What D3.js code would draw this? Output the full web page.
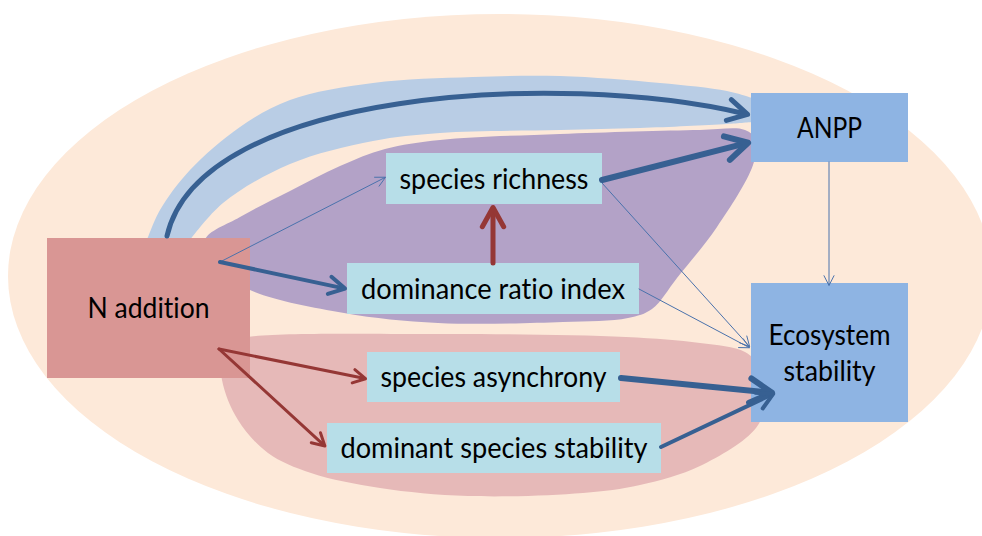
<!DOCTYPE html>
<html><head><meta charset="utf-8">
<script src="https://cdn.jsdelivr.net/npm/d3@7"></script>
<style>body{margin:0;background:#fff}svg{display:block}text{font-variant-ligatures:none;font-feature-settings:"liga" 0,"clig" 0}</style>
</head><body>
<script>
// ---- data ----
const nodeLabels = ["N addition","species richness","dominance ratio index","species asynchrony","dominant species stability","ANPP","Ecosystem stability"];
const nodeLines = [["N addition"],["species richness"],["dominance ratio index"],["species asynchrony"],["dominant species stability"],["ANPP"],["Ecosystem","stability"]];
const edgeSource   = [0,0,0,2,1,1,2,5,0,0,3,4];
const edgeTarget   = [5,1,2,1,5,6,6,6,3,4,6,6];
const edgeWeight   = [5,1,4,5,6,1,1,1,3,3,6,4];
const edgeEffect   = ["+","+","+","-","+","+","+","+","-","-","+","+"];
const groupNames   = ["direct to ANPP","richness / dominance","asynchrony / dominant stability"];

// ---- layout (positions & styles) ----
const W = 982, H = 536;
const boxes = [
  {x:47, y:238, w:203, h:140, fill:"#D99694", tw:[122]},
  {x:386,y:153, w:216, h:51,  fill:"#B7DEE8", tw:[189]},
  {x:347,y:263, w:292, h:51,  fill:"#B7DEE8", tw:[264]},
  {x:367,y:352, w:253, h:50,  fill:"#B7DEE8", tw:[226]},
  {x:327,y:423, w:334, h:50,  fill:"#B7DEE8", tw:[307]},
  {x:751,y:93,  w:157, h:69,  fill:"#8EB4E3", tw:[65]},
  {x:751,y:283, w:157, h:139, fill:"#8EB4E3", tw:[122,92]}
];
const anchors = [
  {s:[167,236], e:[750,115], c1:[200,90], c2:[560,70]},
  {s:[220,262], e:[386,177]},
  {s:[220,262], e:[347,289]},
  {s:[493,263], e:[493,205]},
  {s:[602,180], e:[751,142]},
  {s:[602,183], e:[750,347]},
  {s:[639,289], e:[750,348]},
  {s:[829,162], e:[829,286]},
  {s:[219,349], e:[367,379]},
  {s:[219,349], e:[326,447]},
  {s:[621,378], e:[775,393]},
  {s:[661,447], e:[775,393]}
];
const blobShapes = [
  {fill:"#B9CDE5", outer:[[147,240],[160,210],[190,170],[240,127],[290,100],[373,83],[473,77],[560,76],[660,83],[727,91],[752,98]],
                   inner:[[752,122],[727,124],[640,128],[560,130],[440,133],[373,141],[290,164],[223,203],[190,240]]},
  {fill:"#B3A2C7", closed:[[205,240],[240,217],[290,191],[340,166],[385,149],[440,140],[560,134],[700,130],[745,130],[756,140],[753,165],[717,227],[677,278],[652,309],[628,318],[563,322],[438,323],[344,313],[250,290],[215,266]]},
  {fill:"#E6B9B8", closed:[[240,338],[438,334],[626,337],[700,343],[745,352],[760,368],[766,400],[756,428],[700,466],[640,485],[583,493],[468,496],[380,488],[311,473],[268,453],[238,420],[222,380],[222,345]]}
];

const svg = d3.select("body").append("svg").attr("width",W).attr("height",H);

svg.append("ellipse").attr("cx",500).attr("cy",276).attr("rx",492).attr("ry",262).attr("fill","#FDE9D9");

// blobs
const lineOpen = d3.line().curve(d3.curveCatmullRom.alpha(0.5));
const lineClosed = d3.line().curve(d3.curveCatmullRomClosed.alpha(0.5));
blobShapes.forEach((b,i)=>{
  let d;
  if (b.closed) d = lineClosed(b.closed);
  else d = lineOpen(b.outer) + "L" + lineOpen(b.inner).slice(1) + "Z";
  svg.append("path").attr("d",d).attr("fill",b.fill).attr("class","group").attr("data-name",groupNames[i]);
});

// boxes
const gBoxes = svg.append("g");
gBoxes.selectAll("rect").data(boxes).join("rect")
  .attr("x",d=>d.x).attr("y",d=>d.y).attr("width",d=>d.w).attr("height",d=>d.h).attr("fill",d=>d.fill);

// edges
function colorFor(i){
  if (edgeEffect[i]==="-") return "#953735";
  return edgeWeight[i] <= 1 ? "#4A72AC" : "#376092";
}
function headLen(w){ return w<=1 ? 11 : (w<=3 ? 14 : (w<=4 ? 18 : (w<=5 ? 22 : 25))); }
const gEdges = svg.append("g").attr("fill","none").attr("stroke-linecap","round").attr("stroke-linejoin","round");
edgeSource.forEach((src,i)=>{
  const a = anchors[i], w = edgeWeight[i], col = colorFor(i);
  let dir;
  if (a.c1) dir = [a.e[0]-a.c2[0], a.e[1]-a.c2[1]];
  else dir = [a.e[0]-a.s[0], a.e[1]-a.s[1]];
  const len = Math.hypot(dir[0],dir[1]); const ux = dir[0]/len, uy = dir[1]/len;
  const tip = [a.e[0]-ux*w*0.5, a.e[1]-uy*w*0.5];
  const shaftEnd = [tip[0]-ux*w*0.6, tip[1]-uy*w*0.6];
  const p = d3.path();
  p.moveTo(a.s[0],a.s[1]);
  if (a.c1) p.bezierCurveTo(a.c1[0],a.c1[1],a.c2[0],a.c2[1],shaftEnd[0],shaftEnd[1]);
  else p.lineTo(shaftEnd[0],shaftEnd[1]);
  gEdges.append("path").attr("d",p.toString()).attr("stroke",col).attr("stroke-width",w)
    .attr("data-from",nodeLabels[src]).attr("data-to",nodeLabels[edgeTarget[i]]);
  const L = headLen(w), ang = (w<=1?27:29)*Math.PI/180, th = Math.atan2(uy,ux);
  const p1 = [tip[0]-L*Math.cos(th-ang), tip[1]-L*Math.sin(th-ang)];
  const p2 = [tip[0]-L*Math.cos(th+ang), tip[1]-L*Math.sin(th+ang)];
  gEdges.append("path").attr("d",`M${p1[0]},${p1[1]}L${tip[0]},${tip[1]}L${p2[0]},${p2[1]}`)
    .attr("stroke",col).attr("stroke-width",w);
});

// labels
const gText = svg.append("g").attr("font-family","Lato, 'Open Sans', sans-serif").attr("font-size",28).attr("fill","#000").attr("text-anchor","middle");
boxes.forEach((b,i)=>{
  const lines = nodeLines[i];
  const lh = 36;
  const cy = b.y + b.h/2;
  lines.forEach((t,j)=>{
    const y = cy + 10 + (j - (lines.length-1)/2)*lh;
    gText.append("text").attr("x",b.x+b.w/2).attr("y",y).text(t)
      .attr("textLength",b.tw[j]).attr("lengthAdjust","spacingAndGlyphs");
  });
});
</script>
</body></html>
